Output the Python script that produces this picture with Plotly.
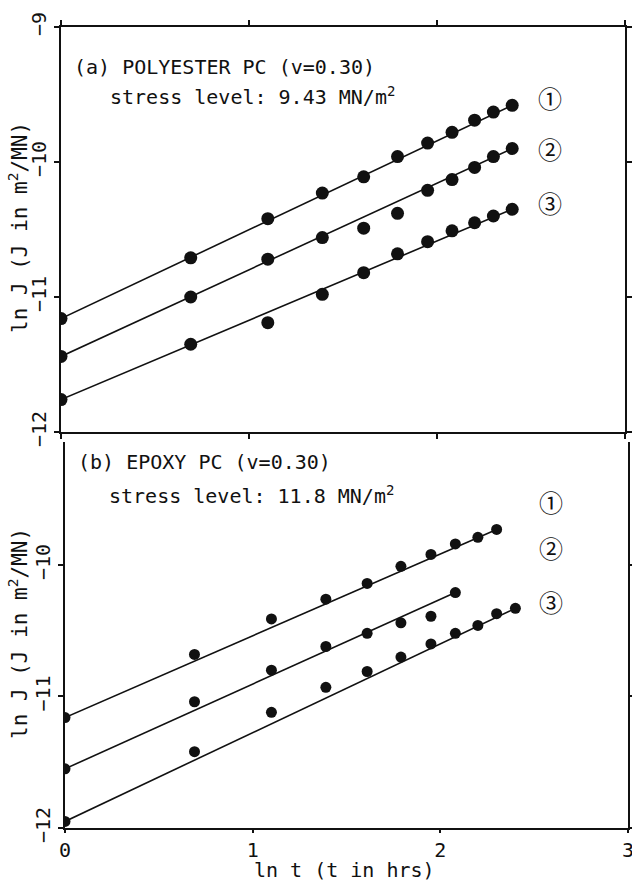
import plotly.graph_objects as go

# ---------------- data ----------------
# ln t, t in hrs (t = 1 ... 11)
ln_t = [0.00, 0.69, 1.10, 1.39, 1.61, 1.79, 1.95, 2.08, 2.20, 2.30, 2.40]

# (a) POLYESTER PC, stress level 9.43 MN/m^2 : ln J
poly_1 = [-11.16, -10.71, -10.42, -10.23, -10.11, -9.96, -9.86, -9.78, -9.69, -9.63, -9.58]
poly_2 = [-11.44, -11.00, -10.72, -10.56, -10.49, -10.38, -10.21, -10.13, -10.04, -9.96, -9.90]
poly_3 = [-11.76, -11.35, -11.19, -10.98, -10.82, -10.68, -10.59, -10.51, -10.45, -10.40, -10.35]

# (b) EPOXY PC, stress level 11.8 MN/m^2 : ln J
epoxy_1 = [-11.16, -10.68, -10.41, -10.26, -10.14, -10.01, -9.92, -9.84, -9.79, -9.73]
epoxy_2 = [-11.55, -11.04, -10.80, -10.62, -10.52, -10.44, -10.39, -10.21]
epoxy_3 = [-11.95, -11.42, -11.12, -10.93, -10.81, -10.70, -10.60, -10.52, -10.46, -10.37, -10.33]

curve_labels = ["\u2460", "\u2461", "\u2462"]
x_ticks = [0, 1, 2, 3]
y_ticks_top = [-12, -11, -10, -9]
y_ticks_bot = [-12, -11, -10]

# ---------------- styling ----------------
W, H = 632, 881
INK = "#111111"
FONT = "DejaVu Sans Mono"

fig = go.Figure()


def add_series(ys, xa, ya, msize):
    xs = ln_t[:len(ys)]
    # straight line through the series (first to last reading)
    fig.add_trace(go.Scatter(x=[xs[0], xs[-1]], y=[ys[0], ys[-1]], mode="lines",
                             line=dict(color=INK, width=1.6), xaxis=xa, yaxis=ya,
                             showlegend=False, hoverinfo="skip"))
    fig.add_trace(go.Scatter(x=xs, y=ys, mode="markers",
                             marker=dict(color=INK, size=msize), xaxis=xa, yaxis=ya,
                             showlegend=False))


for s in (poly_1, poly_2, poly_3):
    add_series(s, "x", "y", 13)
for s in (epoxy_1, epoxy_2, epoxy_3):
    add_series(s, "x2", "y2", 11)

ax_common = dict(showline=True, linecolor=INK, linewidth=2, ticks="outside",
                 tickwidth=1.5, tickcolor=INK, showgrid=False,
                 zeroline=False, automargin=False, ticklabeloverflow="allow",
                 tickfont=dict(family=FONT, size=20, color=INK))

fig.update_layout(
    width=W, height=H,
    margin=dict(l=0, r=0, t=0, b=0, autoexpand=False),
    paper_bgcolor="white", plot_bgcolor="white",
    xaxis=dict(domain=[61 / W, 625 / W], range=[0, 3], anchor="y", ticklen=5,
               tickvals=x_ticks, showticklabels=False, mirror="ticks", **ax_common),
    yaxis=dict(domain=[1 - 432 / H, 1 - 27 / H], range=[-12, -9], anchor="x", ticklen=5,
               tickvals=y_ticks_top, tickangle=-90, mirror="ticks", **ax_common),
    xaxis2=dict(domain=[65 / W, 628 / W], range=[0, 3], anchor="y2", ticklen=3,
                tickvals=x_ticks, mirror=False, **ax_common),
    yaxis2=dict(domain=[1 - 828 / H, 1 - 442 / H], range=[-12, -9.065], anchor="x2",
                ticklen=5, tickvals=y_ticks_bot, tickangle=-90, mirror="ticks", **ax_common),
)

tfont = dict(family=FONT, size=20, color=INK)
ann = []
# panel texts
ann.append(dict(x=0.06, y=-9.30, xref="x", yref="y", xanchor="left", yanchor="middle",
                text="(a) POLYESTER PC (v=0.30)", showarrow=False, font=tfont))
ann.append(dict(x=0.25, y=-9.51, xref="x", yref="y", xanchor="left", yanchor="middle",
                text="stress level: 9.43 MN/m<sup>2</sup>", showarrow=False, font=tfont))
ann.append(dict(x=0.06, y=-9.22, xref="x2", yref="y2", xanchor="left", yanchor="middle",
                text="(b) EPOXY PC (v=0.30)", showarrow=False, font=tfont))
ann.append(dict(x=0.225, y=-9.47, xref="x2", yref="y2", xanchor="left", yanchor="middle",
                text="stress level: 11.8 MN/m<sup>2</sup>", showarrow=False, font=tfont))

# circled curve numbers
cfont = dict(family="Noto Sans CJK JP", size=24, color=INK)
for lab, yy in zip(curve_labels, [-9.52, -9.90, -10.30]):
    ann.append(dict(x=2.60, y=yy, xref="x", yref="y", text=lab, showarrow=False,
                    xanchor="center", yanchor="middle", font=cfont))
for lab, yy in zip(curve_labels, [-9.52, -9.87, -10.28]):
    ann.append(dict(x=2.59, y=yy, xref="x2", yref="y2", text=lab, showarrow=False,
                    xanchor="center", yanchor="middle", font=cfont))

# axis titles
ytitle = "ln J (J in m<sup>2</sup>/MN)"
yfont = dict(family=FONT, size=21, color=INK)
ann.append(dict(x=18 / W, y=1 - 228 / H, xref="paper", yref="paper", text=ytitle,
                textangle=-90, showarrow=False, xanchor="center", yanchor="middle",
                font=yfont))
ann.append(dict(x=18 / W, y=1 - 634 / H, xref="paper", yref="paper", text=ytitle,
                textangle=-90, showarrow=False, xanchor="center", yanchor="middle",
                font=yfont))
ann.append(dict(x=344 / W, y=1 - 870 / H, xref="paper", yref="paper",
                text="ln t (t in hrs)", showarrow=False, xanchor="center",
                yanchor="middle", font=tfont))

fig.update_layout(annotations=ann)

fig.write_html("out.html", config={"displayModeBar": False},
               post_script="document.body.style.margin='0';"
                           "document.body.style.padding='0';"
                           "document.body.style.overflow='hidden';")
